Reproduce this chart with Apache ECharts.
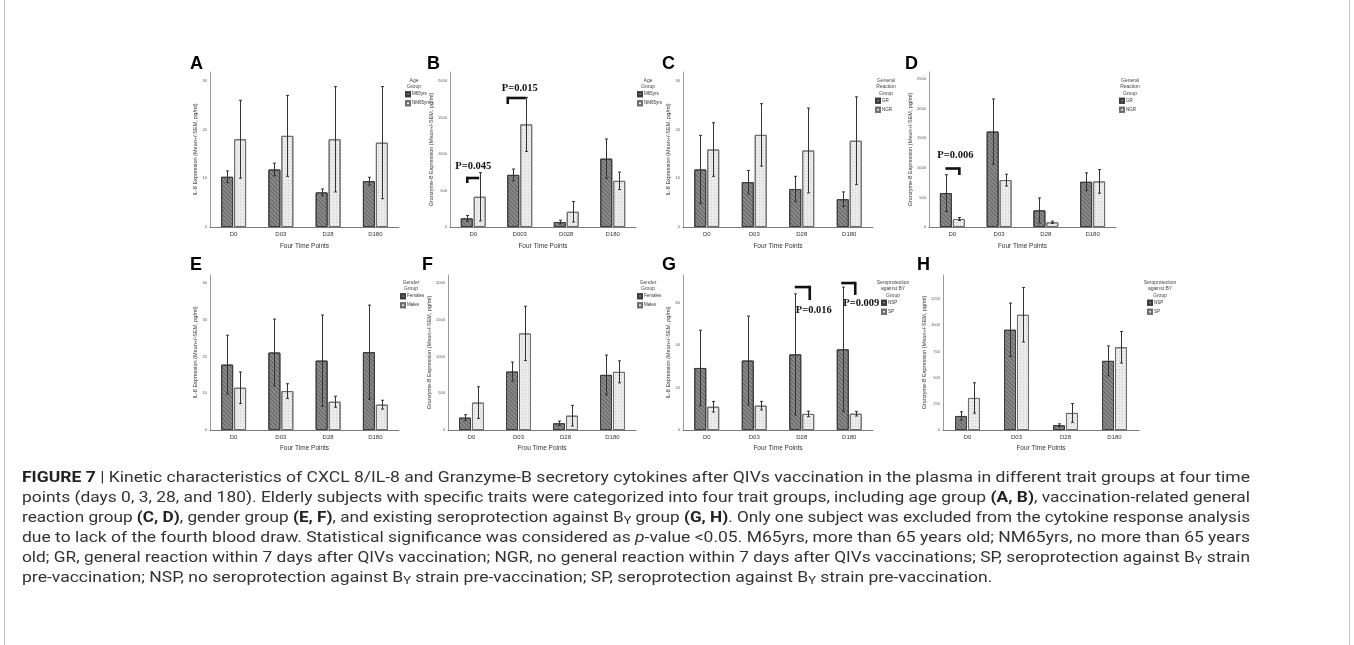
<!DOCTYPE html>
<html><head><meta charset="utf-8">
<script src="https://cdn.jsdelivr.net/npm/echarts@6/dist/echarts.min.js"></script>
<style>html,body{margin:0;padding:0;background:#fff}#c{width:1354px;height:645px}</style>
</head><body><div id="c"></div>
<script>
// ---------------- DATA ----------------
const catsTime = ['D0', 'D03', 'D28', 'D180'];
const catsTimeB = ['D0', 'D003', 'D028', 'D180'];

// A: IL-8 by age group
const a_M65 = [10.3, 11.8, 7.1, 9.4];
const a_M65_sem = [1.2, 1.3, 0.7, 0.8];
const a_NM65 = [18.0, 18.7, 18.0, 17.3];
const a_NM65_sem = [8.0, 8.3, 10.8, 11.5];
// B: Granzyme-B by age group
const b_M65 = [118, 714, 68, 936];
const b_M65_sem = [40, 80, 25, 270];
const b_NM65 = [414, 1405, 209, 632];
const b_NM65_sem = [330, 370, 140, 120];
// C: IL-8 by general reaction
const c_GR = [11.8, 9.2, 7.8, 5.7];
const c_GR_sem = [7.0, 2.4, 2.6, 1.5];
const c_NGR = [15.9, 18.9, 15.7, 17.7];
const c_NGR_sem = [5.5, 6.4, 8.7, 9.0];
// D: Granzyme-B by general reaction
const d_GR = [573, 1612, 281, 764];
const d_GR_sem = [310, 550, 210, 150];
const d_NGR = [135, 792, 79, 770];
const d_NGR_sem = [25, 100, 20, 200];
// E: IL-8 by gender
const e_F = [17.8, 21.1, 18.9, 21.2];
const e_F_sem = [8.0, 9.1, 12.4, 12.8];
const e_M = [11.5, 10.6, 7.7, 6.9];
const e_M_sem = [4.3, 2.0, 1.5, 1.2];
// F: Granzyme-B by gender
const f_F = [168, 795, 91, 750];
const f_F_sem = [40, 130, 30, 270];
const f_M = [373, 1314, 195, 791];
const f_M_sem = [215, 370, 140, 150];
// G: IL-8 by seroprotection
const g_NSP = [29.3, 32.8, 35.7, 38.1];
const g_NSP_sem = [17.8, 21.0, 28.6, 29.4];
const g_SP = [11.0, 11.5, 7.6, 7.7];
const g_SP_sem = [2.5, 2.0, 1.3, 1.1];
// H: Granzyme-B by seroprotection
const h_NSP = [134, 957, 45, 660];
const h_NSP_sem = [40, 255, 14, 143];
const h_SP = [306, 1100, 163, 790];
const h_SP_sem = [145, 260, 90, 150];

// significance annotations (category index, label, value levels)
const annotB = [
  { cat: 0, text: 'P=0.045', textVal: 836, lineVal: 671, tickVal: 603 },
  { cat: 1, text: 'P=0.015', textVal: 1904, lineVal: 1767, tickVal: 1685 }
];
const annotD = [
  { cat: 0, text: 'P=0.006', textVal: 1216, lineVal: 988, tickVal: 878 }
];
const annotG = [
  { cat: 2, text: 'P=0.016', textVal: 56.7, lineVal: 67.5, tickVal: 61.4 },
  { cat: 3, text: 'P=0.009', textVal: 60.0, lineVal: 69.4, tickVal: 63.8 }
];

const IL8_TITLE = 'IL-8 Expression (Mean+/-SEM, pg/ml)';
const GZB_TITLE = 'Granzyme-B Expression (Mean+/-SEM, pg/ml)';

// ---------------- LAYOUT ----------------
// bracket geometry (pixel offsets from category centre)
const bracketB = [{ x0: -6, x1: 6, side: -1, tdx: 0 }, { x0: -12, x1: 6, side: -1, tdx: 0 }];
const bracketD = [{ x0: -7, x1: 7, side: 1, tdx: 3 }];
const bracketG = [{ x0: -7, x1: 8, side: 1, tdx: 12 }, { x0: -8, x1: 6, side: 1, tdx: 12 }];

const panels = [
  { L: 'A', cats: catsTime, s: [['M65yrs', a_M65, a_M65_sem], ['NM65yrs', a_NM65, a_NM65_sem]], y: IL8_TITLE, x: 'Four Time Points',
    g: [210, 72, 189, 155], max: 31.8, iv: 10, ng: 9, lt: 'Age\nGroup', lg: [405, 77, 414], lp: [190, 55] },
  { L: 'B', cats: catsTimeB, s: [['M65yrs', b_M65, b_M65_sem], ['NM65yrs', b_NM65, b_NM65_sem]], y: GZB_TITLE, x: 'Four Time Points',
    g: [450, 72, 186, 155], max: 2123, iv: 500, ng: 13, lt: 'Age\nGroup', lg: [637, 77, 648], lp: [427, 55], an: annotB, br: bracketB },
  { L: 'C', cats: catsTime, s: [['GR', c_GR, c_GR_sem], ['NGR', c_NGR, c_NGR_sem]], y: IL8_TITLE, x: 'Four Time Points',
    g: [683, 72, 190, 155], max: 31.8, iv: 10, ng: 8, lt: 'General\nReaction\nGroup', lg: [875, 77, 886], lp: [662, 55] },
  { L: 'D', cats: catsTime, s: [['GR', d_GR, d_GR_sem], ['NGR', d_NGR, d_NGR_sem]], y: GZB_TITLE, x: 'Four Time Points',
    g: [929, 72, 187, 155], max: 2618, iv: 500, ng: 14, lt: 'General\nReaction\nGroup', lg: [1119, 77, 1130], lp: [905, 55], an: annotD, br: bracketD },
  { L: 'E', cats: catsTime, s: [['Females', e_F, e_F_sem], ['Males', e_M, e_M_sem]], y: IL8_TITLE, x: 'Four Time Points',
    g: [210, 275, 189, 155], max: 42.2, iv: 10, ng: 9, lt: 'Gender\nGroup', lg: [400, 279, 411], lp: [190, 256] },
  { L: 'F', cats: catsTime, s: [['Females', f_F, f_F_sem], ['Males', f_M, f_M_sem]], y: GZB_TITLE, x: 'Frou Time Points',
    g: [448, 275, 188, 155], max: 2109, iv: 500, ng: 11, lt: 'Gender\nGroup', lg: [637, 279, 648], lp: [422, 256] },
  { L: 'G', cats: catsTime, s: [['NSP', g_NSP, g_NSP_sem], ['SP', g_SP, g_SP_sem]], y: IL8_TITLE, x: 'Four Time Points',
    g: [683, 275, 190, 155], max: 73.2, iv: 20, ng: 8, lt: 'Seroprotection\nagainst BY\nGroup', lg: [881, 279, 893], lp: [662, 256], an: annotG, br: bracketG },
  { L: 'H', cats: catsTime, s: [['NSP', h_NSP, h_NSP_sem], ['SP', h_SP, h_SP_sem]], y: GZB_TITLE, x: 'Four Time Points',
    g: [943, 275, 196, 155], max: 1480, iv: 250, ng: 12, lt: 'Seroprotection\nagainst BY\nGroup', lg: [1147, 279, 1160], lp: [917, 256] }
];

const BAR_W = 12, HALF = 6.5;
const darkStyle = {
  color: '#8a8a8a', borderColor: '#3c3c3c', borderWidth: 1,
  decal: { symbol: 'rect', symbolSize: 1, dashArrayX: [1, 0], dashArrayY: [1, 2], rotation: Math.PI / 4, color: 'rgba(30,30,30,0.35)' }
};
const lightStyle = {
  color: '#ebebeb', borderColor: '#6e6e6e', borderWidth: 1,
  decal: { symbol: 'rect', symbolSize: 1, dashArrayX: [1, 2], dashArrayY: [1, 2], color: 'rgba(0,0,0,0.12)' }
};
const SANS = "'Liberation Sans', Arial, sans-serif";
const SERIF = "'Liberation Serif', 'Times New Roman', serif";

function errRender(side) {
  return function (params, api) {
    const k = api.value(0), m = api.value(1), s = api.value(2);
    const p1 = api.coord([k, m + s]);
    const p2 = api.coord([k, Math.max(0, m - s)]);
    const x = Math.round(p1[0] + side * HALF) + 0.5;
    const ln = (x1, y1, x2, y2) => ({ type: 'line', shape: { x1, y1, x2, y2 }, style: { stroke: '#333', lineWidth: 1 } });
    return { type: 'group', children: [ln(x, p1[1], x, p2[1]), ln(x - 1.5, p1[1], x + 1.5, p1[1]), ln(x - 1.5, p2[1], x + 1.5, p2[1])] };
  };
}
function annRender(ann, br) {
  return function (params, api) {
    const a = ann[params.dataIndex], b = br[params.dataIndex];
    const pl = api.coord([a.cat, a.lineVal]);
    const pt = api.coord([a.cat, a.tickVal]);
    const ptx = api.coord([a.cat, a.textVal]);
    const xa = pl[0] + b.x0, xb = pl[0] + b.x1;
    const xv = b.side < 0 ? xa : xb;
    return { type: 'group', children: [
      { type: 'line', shape: { x1: xa, y1: pl[1], x2: xb, y2: pl[1] }, style: { stroke: '#111', lineWidth: 2.6 } },
      { type: 'line', shape: { x1: xv, y1: pl[1] - 1.3, x2: xv, y2: pt[1] }, style: { stroke: '#111', lineWidth: 2.6 } },
      { type: 'text', x: ptx[0] + b.tdx, y: ptx[1], style: { text: a.text, font: 'bold 10.5px ' + SERIF, fill: '#111', align: 'center', verticalAlign: 'middle' } }
    ] };
  };
}

const grids = [], xAxes = [], yAxes = [], series = [], legends = [], graphics = [];
panels.forEach((p, i) => {
  grids.push({ left: p.g[0], top: p.g[1], width: p.g[2], height: p.g[3] });
  xAxes.push({
    type: 'category', gridIndex: i, data: p.cats,
    axisLine: { lineStyle: { color: '#7a7a7a', width: 1 } }, axisTick: { show: false },
    axisLabel: { fontSize: 6, color: '#333', margin: 4, fontFamily: SANS },
    name: p.x, nameLocation: 'middle', nameGap: i < 4 ? 15.5 : 14.5,
    nameTextStyle: { fontSize: 6.5, color: '#333', fontFamily: SANS }
  });
  yAxes.push({
    type: 'value', gridIndex: i, min: 0, max: p.max, interval: p.iv,
    axisLine: { show: true, lineStyle: { color: '#9a9a9a', width: 1 } }, axisTick: { show: false }, splitLine: { show: false },
    axisLabel: { fontSize: 4, color: '#555', margin: 3, fontFamily: SANS,
      formatter: v => (Math.abs(v / p.iv - Math.round(v / p.iv)) < 1e-6 ? String(v) : '') },
    name: p.y, nameLocation: 'middle', nameGap: p.ng,
    nameTextStyle: { fontSize: 5.5, color: '#333', fontFamily: SANS }
  });
  p.s.forEach((s, j) => {
    series.push({ type: 'bar', name: s[0], xAxisIndex: i, yAxisIndex: i, data: s[1], barWidth: BAR_W, barGap: '8%',
      itemStyle: j === 0 ? darkStyle : lightStyle, silent: true, animation: false });
  });
  p.s.forEach((s, j) => {
    series.push({ type: 'custom', xAxisIndex: i, yAxisIndex: i, z: 5, clip: false, silent: true, animation: false,
      data: s[1].map((v, k) => [k, v, s[2][k]]), renderItem: errRender(j === 0 ? -1 : 1) });
  });
  if (p.an) {
    series.push({ type: 'custom', xAxisIndex: i, yAxisIndex: i, z: 6, clip: false, silent: true, animation: false,
      data: p.an.map(a => [a.cat, a.lineVal]), renderItem: annRender(p.an, p.br) });
  }
  const nLines = p.lt.split('\n').length;
  legends.push({ left: p.lg[0], top: p.lg[1] + nLines * 6.6 + 1, orient: 'vertical', itemWidth: 4, itemHeight: 4, itemGap: 3,
    padding: 0, icon: 'rect', selectedMode: false, data: p.s.map(s => s[0]),
    textStyle: { fontSize: 4.5, color: '#333', fontFamily: SANS, padding: [0, 0, 0, -3] } });
  graphics.push({ type: 'text', x: p.lg[2], y: p.lg[1], style: { text: p.lt, font: '5px ' + SANS, lineHeight: 6.6, fill: '#444', align: 'center', verticalAlign: 'top' } });
  graphics.push({ type: 'text', x: p.lp[0], y: p.lp[1], style: { text: p.L, font: 'bold 18px ' + SANS, fill: '#000', verticalAlign: 'top' } });
});

// ---------------- CAPTION ----------------
const captionLines = [
  [['FIGURE 7', 'b'], [' | Kinetic characteristics of CXCL 8/IL-8 and Granzyme-B secretory cytokines after QIVs vaccination in the plasma in different trait groups at four time', '']],
  [['points (days 0, 3, 28, and 180). Elderly subjects with specific traits were categorized into four trait groups, including age group ', ''], ['(A, B)', 'b'], [', vaccination-related general', '']],
  [['reaction group ', ''], ['(C, D)', 'b'], [', gender group ', ''], ['(E, F)', 'b'], [', and existing seroprotection against B', ''], ['Y', 'sub'], [' group ', ''], ['(G, H)', 'b'], ['. Only one subject was excluded from the cytokine response analysis', '']],
  [['due to lack of the fourth blood draw. Statistical significance was considered as ', ''], ['p', 'it'], ['-value <0.05. M65yrs, more than 65 years old; NM65yrs, no more than 65 years', '']],
  [['old; GR, general reaction within 7 days after QIVs vaccination; NGR, no general reaction within 7 days after QIVs vaccinations; SP, seroprotection against B', ''], ['Y', 'sub'], [' strain', '']],
  [['pre-vaccination; NSP, no seroprotection against B', ''], ['Y', 'sub'], [' strain pre-vaccination; SP, seroprotection against B', ''], ['Y', 'sub'], [' strain pre-vaccination.', '']]
];
const CAP_FAM = "'Liberation Sans Narrow', 'Roboto', 'Liberation Sans', sans-serif";
const CAP_FS = 15;
const CAP_X0 = 22, CAP_X1 = 1250, CAP_Y0 = 478, CAP_DY = 20;
const mctx = document.createElement('canvas').getContext('2d');
function segFont(st) {
  if (st === 'b') return 'bold ' + CAP_FS + 'px ' + CAP_FAM;
  if (st === 'it') return 'italic ' + CAP_FS + 'px ' + CAP_FAM;
  if (st === 'sub') return Math.round(CAP_FS * 0.7) + 'px ' + CAP_FAM;
  return CAP_FS + 'px ' + CAP_FAM;
}
function lineWidth(segs) { let w = 0; segs.forEach(([t, st]) => { mctx.font = segFont(st); w += mctx.measureText(t).width; }); return w; }
const scale0 = (CAP_X1 - CAP_X0) / lineWidth(captionLines[0]);
captionLines.forEach((segs, i) => {
  const sx = i < captionLines.length - 1 ? (CAP_X1 - CAP_X0) / lineWidth(segs) : scale0;
  const txt = segs.map(([t, st]) => st ? '{' + st + '|' + t + '}' : t).join('');
  graphics.push({ type: 'text', x: CAP_X0, y: CAP_Y0 + i * CAP_DY, scaleX: sx,
    style: { text: txt, font: CAP_FS + 'px ' + CAP_FAM, fill: '#333', verticalAlign: 'middle', lineHeight: 18,
      rich: { b: { fontWeight: 'bold', fontSize: CAP_FS, fontFamily: CAP_FAM, fill: '#222', lineHeight: 18 },
              it: { fontStyle: 'italic', fontSize: CAP_FS, fontFamily: CAP_FAM, lineHeight: 18 },
              sub: { fontSize: Math.round(CAP_FS * 0.7), fontFamily: CAP_FAM, verticalAlign: 'bottom', lineHeight: 18 } } } });
});
// frame
graphics.push({ type: 'line', shape: { x1: 4.5, y1: 0, x2: 4.5, y2: 645 }, style: { stroke: '#c4c4c4', lineWidth: 1 } });
graphics.push({ type: 'line', shape: { x1: 1349.5, y1: 0, x2: 1349.5, y2: 645 }, style: { stroke: '#c4c4c4', lineWidth: 1 } });

const chart = echarts.init(document.getElementById('c'), null, { renderer: 'canvas', width: 1354, height: 645 });
chart.setOption({
  animation: false, backgroundColor: '#fff',
  grid: grids, xAxis: xAxes, yAxis: yAxes, series: series, legend: legends, graphic: graphics
});
</script></body></html>
